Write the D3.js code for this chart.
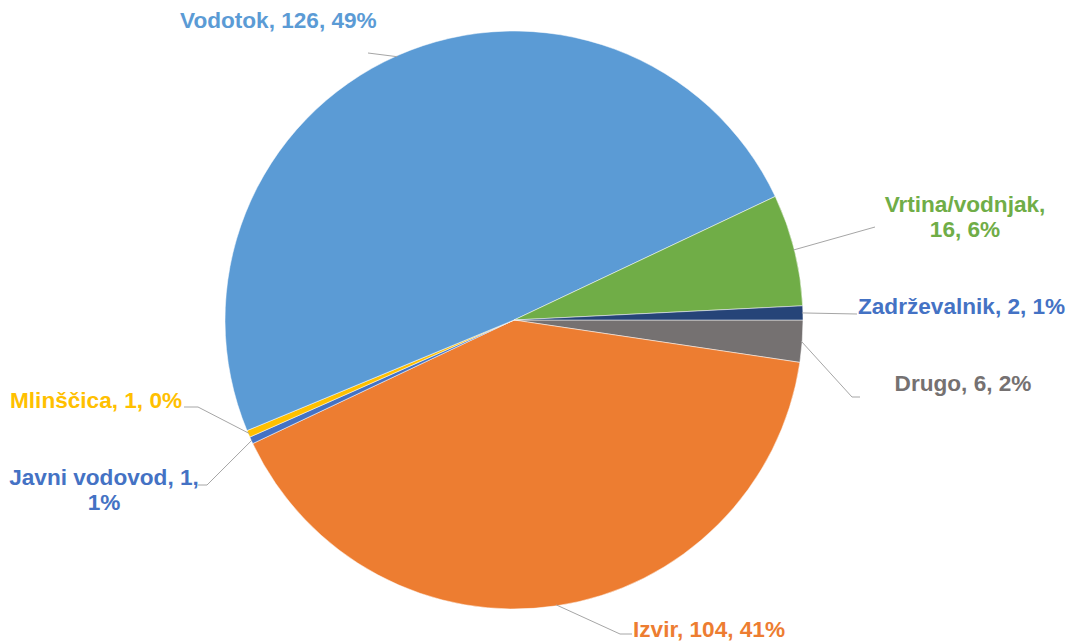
<!DOCTYPE html>
<html>
<head>
<meta charset="utf-8">
<script src="https://cdn.jsdelivr.net/npm/d3@7"></script>
<style>
  html, body { margin: 0; padding: 0; background: #ffffff; }
  svg { display: block; }
  text { font-family: "Liberation Sans", Arial, sans-serif; font-weight: bold; font-size: 22.6px; }
</style>
</head>
<body>
<svg id="chart" width="1072" height="643"></svg>
<script>
// Water source categories (alphabetical, as plotted)
const categories = ["Drugo", "Izvir", "Javni vodovod", "Mlinščica", "Vodotok", "Vrtina/vodnjak", "Zadrževalnik"];
const counts     = [6, 104, 1, 1, 126, 16, 2];
const percents   = ["2%", "41%", "1%", "0%", "49%", "6%", "1%"];

// Slice and label colours
const sliceColors = ["#757171", "#ED7D31", "#4472C4", "#FFC000", "#5B9BD5", "#70AD47", "#264478"];
const textColors  = ["#757171", "#ED7D31", "#4472C4", "#FFC000", "#5B9BD5", "#70AD47", "#4472C4"];

// Label placement: text lines, anchor point and leader-line elbow points
const labelLayout = {
  "Drugo":          { x: 963, y: 391, anchor: "middle", lines: ["Drugo, 6, 2%"], path: [[852, 397], [860, 397]] },
  "Izvir":          { x: 633, y: 637, anchor: "start",  lines: ["Izvir, 104, 41%"], path: [[620, 634], [632, 634]] },
  "Javni vodovod":  { x: 104, y: 485, anchor: "middle", lines: ["Javni vodovod, 1,", "1%"], path: [[207, 485], [198, 485]] },
  "Mlinščica":      { x: 10,  y: 408, anchor: "start",  lines: ["Mlinščica, 1, 0%"], path: [[198, 407], [184, 407]] },
  "Vodotok":        { x: 180, y: 28,  anchor: "start",  lines: ["Vodotok, 126, 49%"], path: [[368, 53]] },
  "Vrtina/vodnjak": { x: 965, y: 212, anchor: "middle", lines: ["Vrtina/vodnjak,", "16, 6%"], path: [[875, 227]] },
  "Zadrževalnik":   { x: 858, y: 314, anchor: "start",  lines: ["Zadrževalnik, 2, 1%"], path: [[857, 314]] }
};

const cx = 514, cy = 320, radius = 289;
const lineHeight = 25;

const data = categories.map((c, i) => ({ name: c, value: counts[i], pct: percents[i], color: sliceColors[i], textColor: textColors[i] }));

const pie = d3.pie()
  .sort(null)
  .value(d => d.value)
  .startAngle(Math.PI / 2)
  .endAngle(Math.PI / 2 + 2 * Math.PI);

const arc = d3.arc().innerRadius(0).outerRadius(radius);
const edgeArc = d3.arc().innerRadius(radius - 1).outerRadius(radius - 1);

const svg = d3.select("#chart");
const g = svg.append("g").attr("transform", `translate(${cx},${cy})`);

const arcs = pie(data);

g.selectAll("path.slice")
  .data(arcs)
  .enter()
  .append("path")
  .attr("class", "slice")
  .attr("d", arc)
  .attr("fill", d => d.data.color)
  .attr("stroke", "#ffffff")
  .attr("stroke-width", 0.5);

// Leader lines from the slice edge to the label
const line = d3.line();
svg.selectAll("path.leader")
  .data(arcs)
  .enter()
  .append("path")
  .attr("class", "leader")
  .attr("d", d => {
    const [ex, ey] = edgeArc.centroid(d);
    const pts = [[cx + ex, cy + ey]].concat(labelLayout[d.data.name].path);
    return line(pts);
  })
  .attr("fill", "none")
  .attr("stroke", "#A6A6A6")
  .attr("stroke-width", 1);

// Labels: category, count, percent
const labels = svg.selectAll("text.label")
  .data(arcs)
  .enter()
  .append("text")
  .attr("class", "label")
  .attr("fill", d => d.data.textColor)
  .attr("text-anchor", d => labelLayout[d.data.name].anchor);

labels.each(function(d) {
  const L = labelLayout[d.data.name];
  d3.select(this).selectAll("tspan")
    .data(L.lines)
    .enter()
    .append("tspan")
    .attr("x", L.x)
    .attr("y", (t, i) => L.y + i * lineHeight)
    .text(t => t);
});
</script>
</body>
</html>
